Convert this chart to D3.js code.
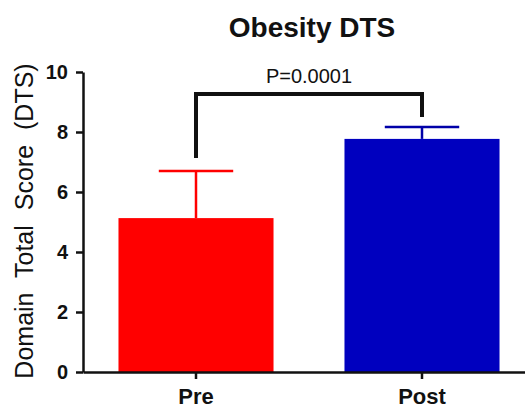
<!DOCTYPE html>
<html>
<head>
<meta charset="utf-8">
<script src="https://cdn.jsdelivr.net/npm/d3@7"></script>
<style>
  body { margin: 0; background: #fff; }
  svg text { font-family: "Liberation Sans", Arial, sans-serif; fill: #111; }
</style>
</head>
<body>
<div class="chart"></div>
<script>
/* data */
var categories = ["Pre", "Post"];
var means = [5.13, 7.77];
var errors = [1.57, 0.40];
var barColors = ["#ff0000", "#0000bf"];
var errColors = ["#ff0000", "#0000a8"];
var yTicks = [0, 2, 4, 6, 8, 10];
var pLabel = "P=0.0001";
var bracketTop = 9.27;
var bracketEnds = [7.13, 8.5];

var width = 525, height = 408;
var plotLeft = 83, plotTop = 72, plotBottom = 372;

var svg = d3.select(".chart")
  .append("svg")
    .attr("width", width)
    .attr("height", height);

var x = d3.scaleBand()
  .domain(categories)
  .range([plotLeft, 535])
  .paddingInner(0.314)
  .paddingOuter(0.157);

var y = d3.scaleLinear()
  .domain([0, 10])
  .range([plotBottom, plotTop]);

/* title */
svg.append("text")
  .attr("x", 312)
  .attr("y", 37)
  .attr("text-anchor", "middle")
  .style("font-size", "28px")
  .style("font-weight", "bold")
  .text("Obesity DTS");

/* y axis label */
svg.append("text")
  .attr("transform", "translate(33," + 221 + ") rotate(-90)")
  .attr("text-anchor", "middle")
  .style("font-size", "25px")
  .style("word-spacing", "8px")
  .text("Domain Total Score (DTS)");

/* error bars (upper only), drawn first so the bar covers the stem */
var err = svg.selectAll(".err")
  .data(categories)
  .enter()
  .append("g")
    .attr("class", "err");

err.append("line")
  .attr("x1", function(d) { return x(d) + x.bandwidth() / 2; })
  .attr("x2", function(d) { return x(d) + x.bandwidth() / 2; })
  .attr("y1", function(d, i) { return y(means[i]); })
  .attr("y2", function(d, i) { return y(means[i] + errors[i]); })
  .attr("stroke", function(d, i) { return errColors[i]; })
  .attr("stroke-width", 2.5);

err.append("line")
  .attr("x1", function(d) { return x(d) + x.bandwidth() * 0.26; })
  .attr("x2", function(d) { return x(d) + x.bandwidth() * 0.74; })
  .attr("y1", function(d, i) { return y(means[i] + errors[i]); })
  .attr("y2", function(d, i) { return y(means[i] + errors[i]); })
  .attr("stroke", function(d, i) { return errColors[i]; })
  .attr("stroke-width", 2.5);

/* bars */
svg.selectAll(".bar")
  .data(categories)
  .enter()
  .append("rect")
    .attr("class", "bar")
    .attr("x", function(d) { return x(d); })
    .attr("y", function(d, i) { return y(means[i]); })
    .attr("width", x.bandwidth())
    .attr("height", function(d, i) { return y(0) - y(means[i]); })
    .attr("fill", function(d, i) { return barColors[i]; });

/* y axis */
var yAxis = svg.append("g")
  .attr("transform", "translate(" + plotLeft + ",0)")
  .call(d3.axisLeft(y).tickValues(yTicks).tickSize(7).tickPadding(8).tickSizeOuter(0));
yAxis.select(".domain").attr("stroke", "#111").attr("stroke-width", 2.5);
yAxis.selectAll(".tick line").attr("stroke", "#111").attr("stroke-width", 2.5);
yAxis.selectAll(".tick text")
  .style("font-size", "20px")
  .style("font-weight", "bold")
  .style("font-family", "'Liberation Sans', Arial, sans-serif")
  .attr("fill", "#111");

/* x axis */
var xAxis = svg.append("g")
  .attr("transform", "translate(0," + plotBottom + ")")
  .call(d3.axisBottom(x).tickSize(7).tickPadding(9).tickSizeOuter(0));
xAxis.select(".domain").attr("stroke", "#111").attr("stroke-width", 2.5);
xAxis.selectAll(".tick line").attr("stroke", "#111").attr("stroke-width", 2.5);
xAxis.selectAll(".tick text")
  .style("font-size", "22px")
  .style("font-weight", "bold")
  .style("font-family", "'Liberation Sans', Arial, sans-serif")
  .attr("fill", "#111");

/* significance bracket */
var bx0 = x(categories[0]) + x.bandwidth() / 2,
    bx1 = x(categories[1]) + x.bandwidth() / 2;
svg.append("path")
  .attr("d", "M" + bx0 + "," + y(bracketEnds[0]) +
             "V" + y(bracketTop) +
             "H" + bx1 +
             "V" + y(bracketEnds[1]))
  .attr("fill", "none")
  .attr("stroke", "#111")
  .attr("stroke-width", 4)
  .attr("stroke-linejoin", "miter");

svg.append("text")
  .attr("x", (bx0 + bx1) / 2)
  .attr("y", y(bracketTop) - 11)
  .attr("text-anchor", "middle")
  .style("font-size", "20px")
  .text(pLabel);
</script>
</body>
</html>
